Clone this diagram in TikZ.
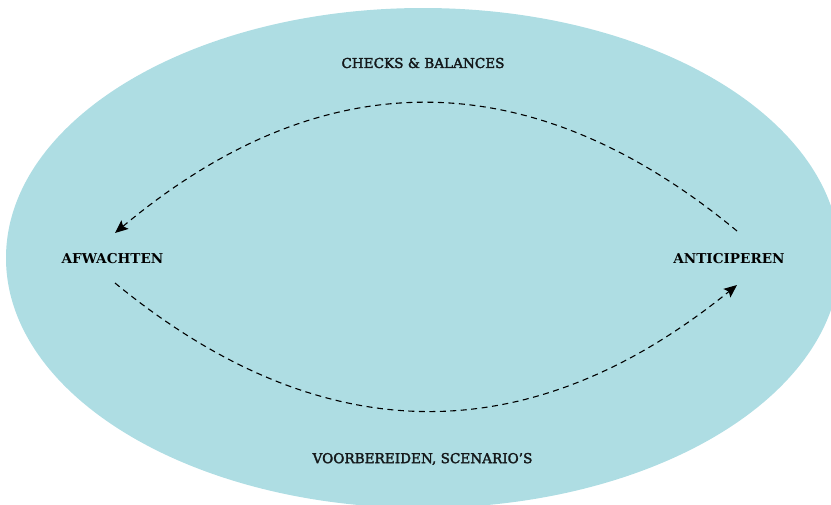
\documentclass[tikz,border=0pt]{standalone}
\usepackage{fontspec}
\setmainfont{DejaVu Serif}
\newfontfamily\semiserif[FakeBold=2.2]{DejaVu Serif}
\usetikzlibrary{arrows.meta}
\definecolor{ellblue}{RGB}{174,221,227}
\definecolor{ink}{RGB}{20,24,26}
\begin{document}
\begin{tikzpicture}[x=1pt,y=-1pt,
  sidelab/.style={font=\fontsize{13.6}{16}\selectfont\bfseries, inner sep=0pt, text=black},
  toplab/.style={font=\fontsize{13.6}{16}\selectfont\semiserif, inner sep=0pt, text=ink},
  flow/.style={line width=1.1pt, dash pattern=on 6pt off 4.5pt, -{Stealth[length=13pt,width=11pt,inset=2.5pt]}}]
\useasboundingbox (0,0) rectangle (831,504);
\fill[ellblue] (423,258) ellipse [x radius=417, y radius=250];
\node[toplab] (cb) at (423,63) {CHECKS \& BALANCES};
\node[toplab] (vs) at (422.5,459) {VOORBEREIDEN, SCENARIO’S};
\node[sidelab] (afw) at (112.5,259) {AFWACHTEN};
\node[sidelab] (anti) at (729,259) {ANTICIPEREN};
\draw[flow] ([shift={(8,-28)}]anti.center) .. controls (530,60) and (322,60) .. ([shift={(2.5,-26)}]afw.center);
\draw[flow] ([shift={(2.5,24)}]afw.center) .. controls (322,453) and (530,453) .. ([shift={(8,26)}]anti.center);
\end{tikzpicture}
\end{document}
